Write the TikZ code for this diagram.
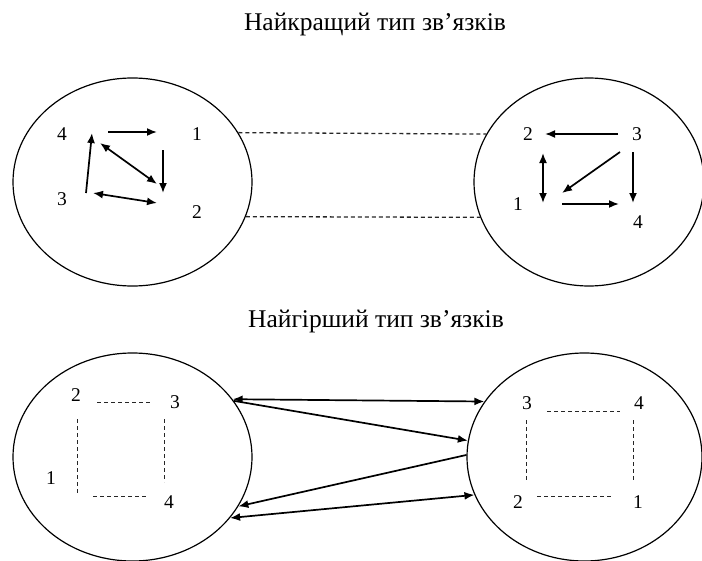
\documentclass[tikz,border=0pt]{standalone}
\usepackage{fontspec}
\setmainfont{Liberation Serif}
\usetikzlibrary{arrows.meta}
\usetikzlibrary{shapes.geometric}

\tikzset{
	oval/.style={draw,ellipse,line width=1.2pt,inner sep=0pt,minimum height=208pt},
	num/.style={font=\fontsize{19.5}{22}\selectfont,inner sep=0pt},
	heading/.style={font=\fontsize{25.5}{28}\selectfont,inner sep=0pt,anchor=base},
	link/.style={line width=1.7pt,-{Latex[length=10pt,width=8pt]}},
	twolink/.style={line width=1.7pt,{Latex[length=10pt,width=8pt]}-{Latex[length=10pt,width=8pt]}},
	weak/.style={line width=1.3pt,dash pattern=on 4pt off 3pt,draw=black!85},
}

\begin{document}
\begin{tikzpicture}[x=1pt,y=-1pt]
	\useasboundingbox (0,0) rectangle (702,560);

	\node[heading] (bestT) at (375,30) {Найкращий тип зв’язків};
	\node[heading] (worstT) at (376,327) {Найгірший тип зв’язків};

	% best type: two groups, linked by dashed lines
	\node[oval,minimum width=239pt] (bestL) at (132.5,182) {};
	\node[oval,minimum width=230pt] (bestR) at (589,182) {};

	\node[num] (l4) at (62,134) {4};
	\node[num] (l1) at (197,134) {1};
	\node[num] (l3) at (62,199) {3};
	\node[num] (l2) at (197,212) {2};

	\node[num] (r2) at (528,134) {2};
	\node[num] (r3) at (637,134) {3};
	\node[num] (r1) at (518,204) {1};
	\node[num] (r4) at (638,222) {4};

	\coordinate (l4s) at (108,132); \coordinate (l1e) at (157,132);
	\coordinate (l1s) at (163,150); \coordinate (l2e) at (163,193);
	\coordinate (l4d) at (100,143); \coordinate (l2d) at (157,184);
	\coordinate (l3s) at (86,193);  \coordinate (l4e) at (92,133);
	\coordinate (l3d) at (93,193);  \coordinate (l2f) at (157,203);

	\draw[link] (l4s) -- (l1e);
	\draw[link] (l1s) -- (l2e);
	\draw[twolink] (l4d) -- (l2d);
	\draw[link] (l3s) -- (l4e);
	\draw[twolink] (l3d) -- (l2f);

	\coordinate (r3s) at (618,134); \coordinate (r2e) at (545,134);
	\coordinate (r2d) at (543,153); \coordinate (r1d) at (543,203);
	\coordinate (r3t) at (620,152); \coordinate (r1e) at (562,193);
	\coordinate (r3u) at (633,152); \coordinate (r4e) at (633,203);
	\coordinate (r1s) at (562,204); \coordinate (r4f) at (619,204);

	\draw[link] (r3s) -- (r2e);
	\draw[twolink] (r2d) -- (r1d);
	\draw[link] (r3t) -- (r1e);
	\draw[link] (r3u) -- (r4e);
	\draw[link] (r1s) -- (r4f);

	\draw[weak] (bestL.25) -- (bestR.155.6);
	\draw[weak] (bestL.343) -- (bestR.198);

	% worst type: weak links inside, strong links between the groups
	\node[oval,minimum width=239pt] (worstL) at (132.5,457) {};
	\node[oval,minimum width=235pt] (worstR) at (584.5,457) {};

	\node[num] (u2) at (76,395) {2};
	\node[num] (u3) at (175,402) {3};
	\node[num] (u1) at (51,478) {1};
	\node[num] (u4) at (169,502) {4};

	\node[num] (v3) at (527,403) {3};
	\node[num] (v4) at (639,403) {4};
	\node[num] (v2) at (518,502) {2};
	\node[num] (v1) at (638,502) {1};

	\coordinate (u23a) at (97,402.5);  \coordinate (u23b) at (152,402.5);
	\coordinate (u21a) at (77.5,419);  \coordinate (u21b) at (77.5,493);
	\coordinate (u34a) at (164.5,419); \coordinate (u34b) at (164.5,482);
	\coordinate (u14a) at (93,496.5);  \coordinate (u14b) at (146,496.5);

	\draw[weak] (u23a) -- (u23b);
	\draw[weak] (u21a) -- (u21b);
	\draw[weak] (u34a) -- (u34b);
	\draw[weak] (u14a) -- (u14b);

	\coordinate (v34a) at (547,411.5); \coordinate (v34b) at (620,411.5);
	\coordinate (v32a) at (526.5,420); \coordinate (v32b) at (526.5,480);
	\coordinate (v41a) at (633.5,420); \coordinate (v41b) at (633.5,480);
	\coordinate (v21a) at (537,496.5); \coordinate (v21b) at (611,496.5);

	\draw[weak] (v34a) -- (v34b);
	\draw[weak] (v32a) -- (v32b);
	\draw[weak] (v41a) -- (v41b);
	\draw[weak] (v21a) -- (v21b);

	\draw[twolink] (worstL.30.2) -- (worstR.151.5);
	\draw[link] (worstL.29) -- (worstR.172.2);
	\draw[link] (worstR.179) -- (worstL.335);
	\draw[twolink] (worstL.328.5) -- (worstR.199.3);

\end{tikzpicture}
\end{document}
